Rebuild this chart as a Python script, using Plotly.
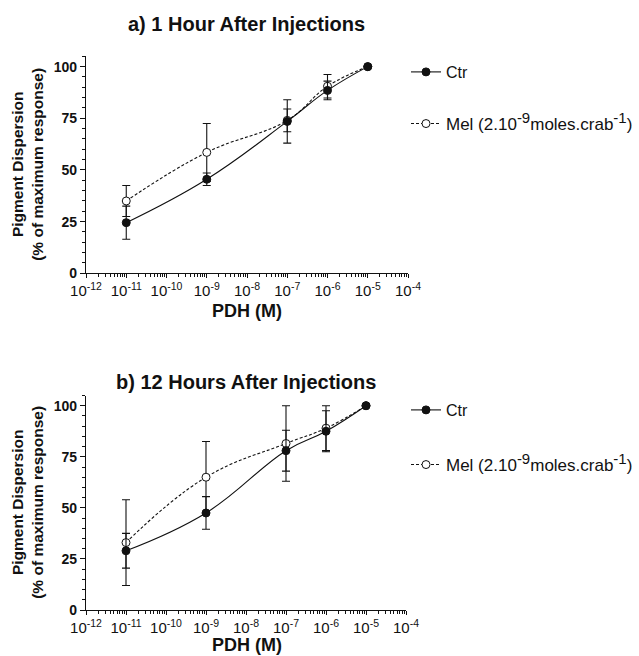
import plotly.graph_objects as go

# PDH concentrations (M)
conc = [1e-11, 1e-9, 1e-7, 1e-6, 1e-5]

# a) 1 hour after injections
ctr_1h = [24.5, 45.5, 73.5, 88.5, 100]
ctr_1h_err = [8, 3, 10.5, 4.5, 0]
mel_1h = [35, 58.5, 74, 90.5, 100]
mel_1h_err = [7.5, 14, 5.5, 5.7, 0]

# b) 12 hours after injections
ctr_12h = [29, 47.5, 78, 87.5, 100]
ctr_12h_err = [8.5, 8, 10, 10, 0]
mel_12h = [33, 65, 81.5, 89, 100]
mel_12h_err = [21, 17.5, 18.5, 11, 0]

x_exponents = list(range(-12, -3))
x_tickvals = [10.0 ** e for e in x_exponents]
x_ticktext = [f"10<sup>{e}</sup>" for e in x_exponents]
y_tickvals = [0, 25, 50, 75, 100]

FONT = "Liberation Sans, Arial, sans-serif"
BLACK = "#111111"

fig = go.Figure()


def add_series(y, err, xaxis, yaxis, name, filled, legend):
    fig.add_trace(go.Scatter(
        x=conc, y=y,
        xaxis=xaxis, yaxis=yaxis,
        mode="lines+markers",
        name=name,
        legend=legend,
        line=dict(color=BLACK, width=1.1, shape="spline", smoothing=1.2,
                  dash="solid" if filled else "3px,2px"),
        marker=dict(symbol="circle", size=8,
                    color=BLACK if filled else "white",
                    line=dict(color=BLACK, width=1)),
        error_y=dict(type="data", array=err, visible=True,
                     color=BLACK, thickness=1.1, width=4),
    ))


mel_name = ('Mel (2.10<sup><span style="font-size:15px">-9</span></sup>'
            'moles.crab<sup><span style="font-size:15px">-1</span></sup>)')
# open-circle series first so the filled markers sit on top
add_series(mel_1h, mel_1h_err, "x", "y", mel_name, False, "legend2")
add_series(ctr_1h, ctr_1h_err, "x", "y", "Ctr", True, "legend")
add_series(mel_12h, mel_12h_err, "x2", "y2", mel_name, False, "legend4")
add_series(ctr_12h, ctr_12h_err, "x2", "y2", "Ctr", True, "legend3")

W, H = 639, 656


def px_x(p):
    return p / W


def px_y(p):
    return (H - p) / H


minor_x = [m * 10.0 ** e for e in range(-12, -4) for m in range(2, 10)]

xaxis_common = dict(
    type="log", range=[-12, -4], automargin=False,
    tickmode="array", tickvals=x_tickvals, ticktext=x_ticktext,
    ticks="outside", ticklen=4, tickwidth=1.2, tickcolor=BLACK,
    showline=True, linecolor=BLACK, linewidth=1.3,
    showgrid=False, zeroline=False, tickangle=0,
    tickfont=dict(family=FONT, size=15, color=BLACK),
    minor=dict(tickmode="array", tickvals=minor_x, ticks="outside",
               ticklen=3, tickwidth=1, tickcolor=BLACK, showgrid=False),
)
yaxis_common = dict(
    range=[0, 105], automargin=False,
    tickmode="array", tickvals=y_tickvals,
    ticks="outside", ticklen=5, tickwidth=1.2, tickcolor=BLACK,
    showline=True, linecolor=BLACK, linewidth=1.3,
    showgrid=False, zeroline=False,
    tickfont=dict(family=FONT, size=14, color=BLACK, weight="bold"),
    minor=dict(dtick=5, ticks="outside", ticklen=3, tickwidth=1,
               tickcolor=BLACK, showgrid=False),
)

fig.update_layout(
    width=W, height=H,
    margin=dict(l=0, r=0, t=0, b=0, autoexpand=False),
    paper_bgcolor="white", plot_bgcolor="white",
    font=dict(family=FONT, color=BLACK),
    showlegend=True,
    xaxis=dict(domain=[px_x(86), px_x(408)], anchor="y", **xaxis_common),
    yaxis=dict(domain=[px_y(273.3), px_y(56.3)], anchor="x", **yaxis_common),
    xaxis2=dict(domain=[px_x(86), px_x(406)], anchor="y2", **xaxis_common),
    yaxis2=dict(domain=[px_y(610), px_y(395.5)], anchor="x2", **yaxis_common),
)


def legend_at(ypix, size):
    return dict(x=px_x(406), y=px_y(ypix), xanchor="left", yanchor="middle",
                bgcolor="rgba(0,0,0,0)",
                font=dict(family=FONT, size=size, color=BLACK))


fig.update_layout(
    legend=legend_at(72, 16),
    legend2=legend_at(124, 17),
    legend3=legend_at(410, 16),
    legend4=legend_at(465, 17),
)

titles = [
    dict(text="<b>a) 1 Hour After Injections</b>", x=px_x(246), y=px_y(24), size=20),
    dict(text="<b>b) 12 Hours After Injections</b>", x=px_x(246), y=px_y(382), size=20),
    dict(text="<b>PDH (M)</b>", x=px_x(247), y=px_y(311), size=18),
    dict(text="<b>PDH (M)</b>", x=px_x(247), y=px_y(645), size=18),
]
for a in titles:
    size = a.pop("size")
    fig.add_annotation(xref="paper", yref="paper", showarrow=False,
                       xanchor="center", yanchor="middle",
                       font=dict(family=FONT, size=size, color=BLACK), **a)

for yc in (164.8, 502.8):
    fig.add_annotation(
        xref="paper", yref="paper", showarrow=False,
        x=px_x(28), y=px_y(yc), xanchor="center", yanchor="middle",
        textangle=-90,
        text="<b>Pigment Dispersion</b><br><b>(% of maximum response)</b>",
        font=dict(family=FONT, size=15.5, color=BLACK),
    )

fig.write_html("out.html")
